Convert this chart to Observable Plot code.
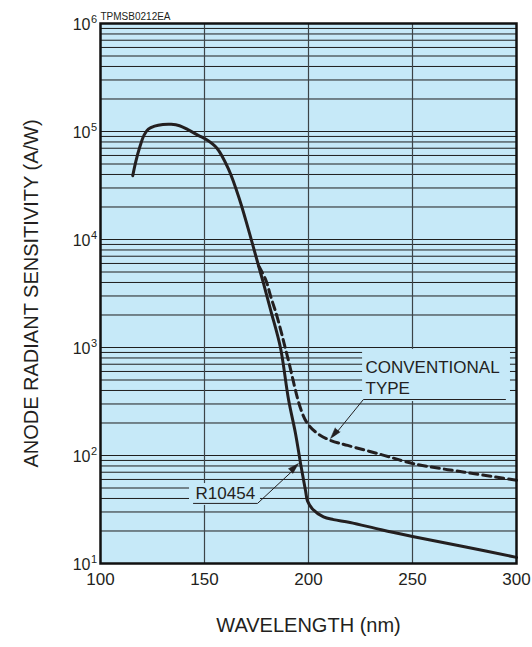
<!DOCTYPE html>
<html>
<head>
<meta charset="utf-8">
<script src="https://cdn.jsdelivr.net/npm/d3@7"></script>
<script src="https://cdn.jsdelivr.net/npm/@observablehq/plot@0.6"></script>
<style>
  html, body { margin: 0; padding: 0; background: #ffffff; }
  #chart { width: 532px; height: 647px; }
</style>
</head>
<body>
<div id="chart"></div>
<script>
// ---- Data ----
const r10454Wavelength = [115.5, 117, 119, 121, 123, 126, 130, 134, 138, 142, 147, 151, 156, 161.5, 167, 173, 176, 178.4, 182, 186.5, 190.4, 193.75, 196.2, 198.6, 199.5, 201.9, 207.2, 212, 220, 235, 250, 275, 300];
const r10454Sensitivity = [39000, 53000, 73000, 93000, 105000, 112000, 116000, 116500, 113000, 104000, 92000, 84000, 70000, 45000, 23000, 9200, 5700, 3900, 2150, 1000, 330, 160, 84, 47, 38, 32, 27, 25.5, 24, 20.5, 17.8, 14.3, 11.4];

const convWavelength = [176, 179.3, 182, 185, 190, 196.2, 199.5, 204.3, 210.6, 218.8, 235, 250.5, 275, 300];
const convSensitivity = [5700, 4300, 2900, 1900, 807, 272, 198, 160, 138, 124, 102, 84, 70, 59];

const xTicks = [100, 150, 200, 250, 300];
const xGrid = [150, 200, 250];
const yTicks = [10, 100, 1000, 10000, 100000, 1000000];
const yTickBase = "10";
const yTickExponents = ["1", "2", "3", "4", "5", "6"];
const gridMantissas = [1, 2, 3, 4, 5, 6, 7, 8, 9];

const xLabel = "WAVELENGTH (nm)";
const yLabel = "ANODE RADIANT SENSITIVITY (A/W)";
const codeLabel = "TPMSB0212EA";

// annotation: conventional type
const convText = ["CONVENTIONAL", "TYPE"];
const convTextX = 227.4;
const convTextY = [653, 417];
const convMask = {x1: 226, x2: 297.1, y1: 316, y2: 960};
const convLeaderX = [294.7, 226.4, 212.2];
const convLeaderY = [330, 330, 152];
const convTipX = 210.6, convTipY = 144;

// annotation: R10454
const rText = "R10454";
const rTextX = 145.7, rTextY = 44.5;
const rMask = {x1: 142.8, x2: 176.9, y1: 34.5, y2: 55};
const rLeaderX = [144.7, 175.5, 193.6];
const rLeaderY = [36, 36, 76];
const rTipX = 195.2, rTipY = 84.4;

// ---- Tables built from the arrays ----
const r10454 = r10454Wavelength.map((w, i) => ({w, v: r10454Sensitivity[i]}));
const conv = convWavelength.map((w, i) => ({w, v: convSensitivity[i]}));
const hGrid = [];
for (let k = 1; k <= 5; k++) for (const m of gridMantissas) hGrid.push(m * Math.pow(10, k));
hGrid.push(1e6);
const convLeader = convLeaderX.map((x, i) => ({x, y: convLeaderY[i]}));
const rLeader = rLeaderX.map((x, i) => ({x, y: rLeaderY[i]}));
const convTextRows = convText.map((t, i) => ({t, x: convTextX, y: convTextY[i]}));
const yTickRows = yTicks.map((v, i) => ({v, base: yTickBase, exp: yTickExponents[i]}));

const FONT = "'Liberation Sans', Arial, Helvetica, sans-serif";
const INK = "#231f20";
const BG = "#c6e9f8";

const chart = Plot.plot({
  width: 532,
  height: 647,
  marginTop: 23,
  marginBottom: 84,
  marginLeft: 100,
  marginRight: 16,
  style: {fontFamily: FONT, background: "#ffffff", color: INK},
  x: {domain: [100, 300], axis: null},
  y: {type: "log", domain: [10, 1e6], axis: null},
  marks: [
    Plot.frame({fill: BG, stroke: null}),
    Plot.ruleY(hGrid, {stroke: "#1e1e1e", strokeWidth: 1}),
    Plot.ruleX(xGrid, {stroke: "#3c4448", strokeWidth: 1.2}),
    // label masks
    Plot.rect([convMask], {x1: "x1", x2: "x2", y1: "y1", y2: "y2", fill: BG}),
    Plot.rect([rMask], {x1: "x1", x2: "x2", y1: "y1", y2: "y2", fill: BG}),
    // curves
    Plot.line(conv, {x: "w", y: "v", stroke: INK, strokeWidth: 3, strokeDasharray: "8,5", curve: "catmull-rom"}),
    Plot.line(r10454, {x: "w", y: "v", stroke: INK, strokeWidth: 3, curve: "catmull-rom"}),
    // annotations
    Plot.text(convTextRows, {x: "x", y: "y", text: "t", textAnchor: "start", fontSize: 17, fill: INK}),
    Plot.line(convLeader, {x: "x", y: "y", stroke: INK, strokeWidth: 1}),
    Plot.vector([{x: convTipX, y: convTipY}], {x: "x", y: "y", anchor: "end", shape: "spike", length: 11, r: 3.2, rotate: 220, fill: INK, stroke: INK, strokeWidth: 0.5}),
    Plot.text([rText], {x: rTextX, y: rTextY, textAnchor: "start", fontSize: 17, fill: INK}),
    Plot.line(rLeader, {x: "x", y: "y", stroke: INK, strokeWidth: 1}),
    Plot.vector([{x: rTipX, y: rTipY}], {x: "x", y: "y", anchor: "end", shape: "spike", length: 11, r: 3.2, rotate: 46, fill: INK, stroke: INK, strokeWidth: 0.5}),
    // axes
    Plot.axisX(xTicks, {tickSize: 0, tickPadding: 9, fontSize: 17, label: null, tickFormat: d => String(d)}),
    Plot.text(yTickRows, {y: "v", frameAnchor: "left", text: "base", textAnchor: "end", dx: -10, dy: 1, fontSize: 16, fill: INK}),
    Plot.text(yTickRows, {y: "v", frameAnchor: "left", text: "exp", textAnchor: "start", dx: -9.5, dy: -4, fontSize: 11, fill: INK}),
    Plot.text([xLabel], {frameAnchor: "bottom", dy: 68, fontSize: 20, fill: INK}),
    Plot.text([yLabel], {frameAnchor: "left", textAnchor: "middle", dx: -69, rotate: -90, fontSize: 20, fill: INK}),
    Plot.text([codeLabel], {frameAnchor: "top-left", dy: -11, textAnchor: "start", fontSize: 10, fill: INK}),
    Plot.frame({stroke: "#111", strokeWidth: 2.5})
  ]
});
document.getElementById("chart").appendChild(chart);
</script>
</body>
</html>
